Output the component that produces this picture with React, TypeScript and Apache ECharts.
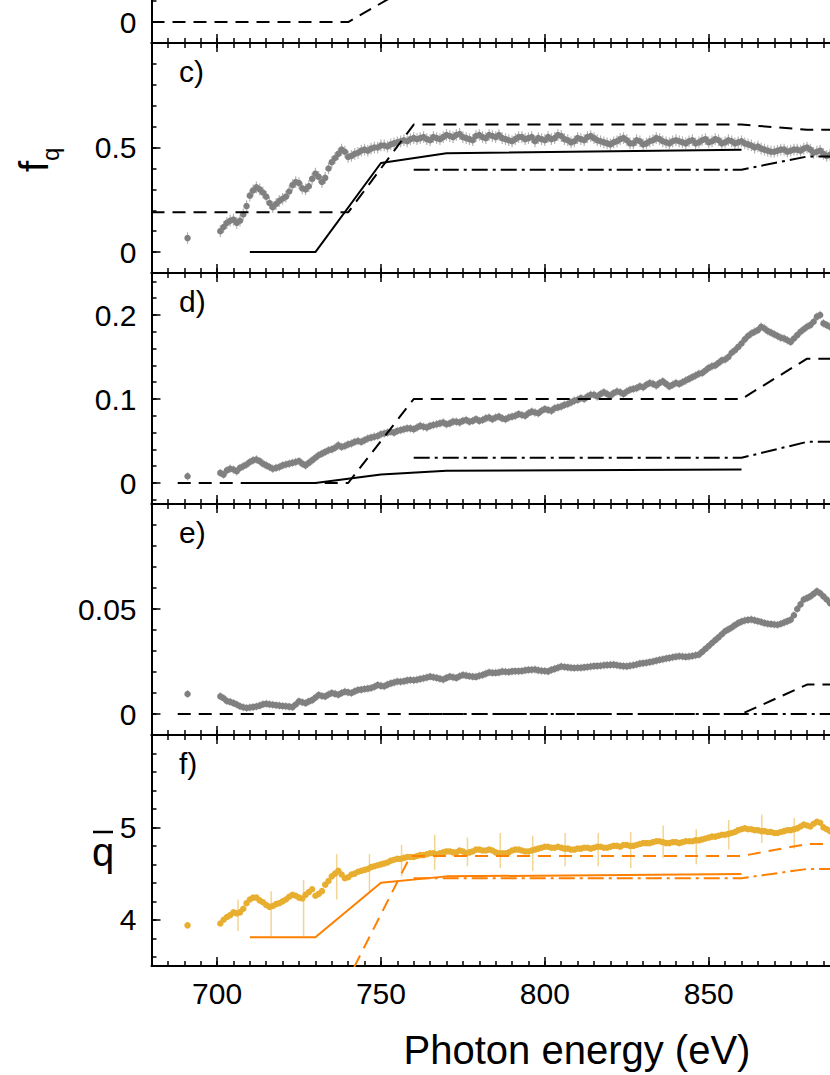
import React, { useEffect, useRef } from "react";
import * as echarts from "echarts";

// ---------- data ----------
const energy = [
  691,
  701, 703, 705, 707, 709, 711, 713, 715, 717, 719,
  721, 723, 725, 727, 729, 731, 733, 735, 737, 739,
  741, 743, 745, 747, 749, 751, 753, 755, 757, 759,
  761, 763, 765, 767, 769, 771, 773, 775, 777, 779,
  781, 783, 785, 787, 789, 791, 793, 795, 797, 799,
  801, 803, 805, 807, 809, 811, 813, 815, 817, 819,
  821, 823, 825, 827, 829, 831, 833, 835, 837, 839,
  841, 843, 845, 847, 849, 851, 853, 855, 857, 859,
  861, 863, 865, 867, 869, 871, 873, 875, 877, 879,
  881, 883, 885, 887,
];

const energyEven = [
  702, 704, 706, 708, 710, 712, 714, 716, 718, 720,
  722, 724, 726, 728, 730, 732, 734, 736, 738, 740,
  742, 744, 746, 748, 750, 752, 754, 756, 758, 760,
  762, 764, 766, 768, 770, 772, 774, 776, 778, 780,
  782, 784, 786, 788, 790, 792, 794, 796, 798, 800,
  802, 804, 806, 808, 810, 812, 814, 816, 818, 820,
  822, 824, 826, 828, 830, 832, 834, 836, 838, 840,
  842, 844, 846, 848, 850, 852, 854, 856, 858, 860,
  862, 864, 866, 868, 870, 872, 874, 876, 878, 880,
  882, 884, 886,
];

const fqValues = [
  0.067,
  0.10, 0.14, 0.155, 0.15, 0.22, 0.295, 0.30, 0.265, 0.215, 0.245,
  0.265, 0.32, 0.33, 0.30, 0.35, 0.36, 0.355, 0.43, 0.47, 0.48,
  0.46, 0.475, 0.49, 0.495, 0.50, 0.51, 0.515, 0.525, 0.535, 0.54,
  0.54, 0.55, 0.535, 0.545, 0.55, 0.555, 0.56, 0.55, 0.54, 0.555,
  0.55, 0.56, 0.55, 0.545, 0.535, 0.54, 0.55, 0.545, 0.53, 0.54,
  0.55, 0.545, 0.555, 0.535, 0.53, 0.54, 0.55, 0.545, 0.53, 0.52,
  0.525, 0.54, 0.535, 0.52, 0.53, 0.52, 0.535, 0.54, 0.525, 0.53,
  0.53, 0.52, 0.535, 0.525, 0.54, 0.53, 0.535, 0.525, 0.53, 0.525,
  0.52, 0.51, 0.505, 0.49, 0.48, 0.485, 0.49, 0.485, 0.49, 0.495,
  0.49, 0.48, 0.47, 0.465,
];
const fqValuesEven = [
  0.12, 0.15, 0.14, 0.18, 0.27, 0.31, 0.285, 0.235, 0.23, 0.255,
  0.29, 0.335, 0.305, 0.315, 0.375, 0.335, 0.40, 0.45, 0.49, 0.455,
  0.47, 0.485, 0.485, 0.50, 0.51, 0.505, 0.52, 0.53, 0.53, 0.545,
  0.545, 0.54, 0.55, 0.54, 0.56, 0.55, 0.565, 0.545, 0.535, 0.56,
  0.545, 0.555, 0.56, 0.54, 0.53, 0.55, 0.54, 0.55, 0.545, 0.535,
  0.54, 0.56, 0.54, 0.525, 0.545, 0.535, 0.555, 0.535, 0.525, 0.515,
  0.53, 0.545, 0.52, 0.535, 0.515, 0.53, 0.545, 0.53, 0.52, 0.535,
  0.525, 0.53, 0.52, 0.535, 0.525, 0.54, 0.52, 0.535, 0.52, 0.53,
  0.515, 0.50, 0.495, 0.485, 0.48, 0.49, 0.48, 0.49, 0.485, 0.50,
  0.475, 0.485, 0.46,
];

const dValues = [
  0.008,
  0.012, 0.015, 0.016, 0.018, 0.022, 0.027, 0.026, 0.021, 0.017, 0.019,
  0.022, 0.024, 0.026, 0.021, 0.027, 0.033, 0.037, 0.040, 0.045, 0.044,
  0.047, 0.050, 0.051, 0.054, 0.056, 0.059, 0.061, 0.062, 0.064, 0.065,
  0.066, 0.067, 0.068, 0.070, 0.072, 0.071, 0.073, 0.074, 0.073, 0.076,
  0.075, 0.078, 0.078, 0.077, 0.078, 0.080, 0.081, 0.083, 0.084, 0.086,
  0.087, 0.089, 0.091, 0.094, 0.098, 0.101, 0.103, 0.105, 0.106, 0.106,
  0.107, 0.108, 0.109, 0.112, 0.115, 0.117, 0.118, 0.119, 0.118, 0.117,
  0.118, 0.122, 0.126, 0.130, 0.134, 0.139, 0.143, 0.147, 0.155, 0.162,
  0.171, 0.178, 0.182, 0.184, 0.179, 0.175, 0.172, 0.168, 0.176, 0.183,
  0.188, 0.198, 0.19, 0.186,
];
const dValuesEven = [
  0.010, 0.017, 0.014, 0.020, 0.025, 0.028, 0.023, 0.019, 0.018, 0.021,
  0.023, 0.025, 0.023, 0.024, 0.030, 0.035, 0.039, 0.042, 0.043, 0.046,
  0.049, 0.049, 0.053, 0.055, 0.058, 0.060, 0.060, 0.063, 0.065, 0.064,
  0.068, 0.066, 0.069, 0.071, 0.070, 0.073, 0.072, 0.075, 0.074, 0.074,
  0.077, 0.076, 0.079, 0.076, 0.079, 0.082, 0.080, 0.085, 0.083, 0.088,
  0.086, 0.090, 0.093, 0.096, 0.099, 0.100, 0.105, 0.103, 0.108, 0.104,
  0.109, 0.106, 0.111, 0.113, 0.114, 0.119, 0.116, 0.121, 0.115, 0.119,
  0.120, 0.124, 0.128, 0.131, 0.137, 0.140, 0.146, 0.150, 0.158, 0.166,
  0.175, 0.180, 0.186, 0.181, 0.177, 0.173, 0.170, 0.172, 0.180, 0.186,
  0.192, 0.200, 0.188,
];

const eValues = [
  0.0095,
  0.0084, 0.0062, 0.0052, 0.0037, 0.0029, 0.0033, 0.0040, 0.0049, 0.0044, 0.0040,
  0.0037, 0.0033, 0.0060, 0.0052, 0.0066, 0.0090, 0.0084, 0.0100, 0.0092, 0.0106,
  0.0100, 0.0114, 0.0119, 0.0124, 0.0138, 0.0132, 0.0146, 0.0155, 0.0156, 0.0162,
  0.0163, 0.0170, 0.0178, 0.0172, 0.0164, 0.0178, 0.0172, 0.0186, 0.0180, 0.0177,
  0.0186, 0.0198, 0.0196, 0.0202, 0.0200, 0.0204, 0.0205, 0.0210, 0.0212, 0.0206,
  0.0203, 0.0215, 0.0226, 0.0222, 0.0219, 0.0220, 0.0224, 0.0228, 0.0230, 0.0233,
  0.0235, 0.0230, 0.0227, 0.0232, 0.0240, 0.0244, 0.0250, 0.0258, 0.0264, 0.0270,
  0.0275, 0.0272, 0.0276, 0.0283, 0.0310, 0.0338, 0.0365, 0.0394, 0.0412, 0.0433,
  0.0445, 0.0450, 0.0442, 0.0433, 0.0428, 0.0425, 0.0436, 0.0449, 0.0500, 0.0545,
  0.0560, 0.0584, 0.0560, 0.0528,
];
const eValuesEven = [
  0.0075, 0.0058, 0.0045, 0.0032, 0.0031, 0.0036, 0.0046, 0.0046, 0.0042, 0.0038,
  0.0035, 0.0045, 0.0056, 0.0060, 0.0078, 0.0086, 0.0093, 0.0096, 0.0100, 0.0103,
  0.0108, 0.0116, 0.0121, 0.0130, 0.0134, 0.0140, 0.0150, 0.0154, 0.0160, 0.0161,
  0.0167, 0.0174, 0.0175, 0.0168, 0.0172, 0.0175, 0.0180, 0.0183, 0.0178, 0.0182,
  0.0192, 0.0196, 0.0198, 0.0201, 0.0203, 0.0204, 0.0208, 0.0211, 0.0208, 0.0205,
  0.0210, 0.0220, 0.0224, 0.0220, 0.0220, 0.0222, 0.0226, 0.0229, 0.0232, 0.0234,
  0.0232, 0.0228, 0.0230, 0.0236, 0.0242, 0.0247, 0.0254, 0.0261, 0.0267, 0.0273,
  0.0274, 0.0274, 0.0280, 0.0296, 0.0324, 0.0352, 0.0380, 0.0403, 0.0423, 0.0440,
  0.0448, 0.0446, 0.0438, 0.0430, 0.0426, 0.0430, 0.0442, 0.0470, 0.0522, 0.0552,
  0.0572, 0.0575, 0.0545,
];

const qbarValues = [
  3.94,
  3.96, 4.03, 4.08, 4.08, 4.18, 4.24, 4.21, 4.16, 4.15, 4.18,
  4.22, 4.27, 4.24, 4.27, 4.33, 4.28, 4.38, 4.47, 4.53, 4.45,
  4.49, 4.52, 4.54, 4.57, 4.59, 4.61, 4.64, 4.66, 4.67, 4.68,
  4.69, 4.70, 4.72, 4.71, 4.73, 4.74, 4.73, 4.74, 4.73, 4.76,
  4.75, 4.76, 4.73, 4.72, 4.73, 4.76, 4.75, 4.74, 4.76, 4.78,
  4.79, 4.78, 4.78, 4.77, 4.76, 4.77, 4.78, 4.78, 4.79, 4.78,
  4.80, 4.79, 4.81, 4.80, 4.82, 4.83, 4.84, 4.85, 4.83, 4.84,
  4.83, 4.85, 4.85, 4.86, 4.88, 4.90, 4.91, 4.92, 4.94, 4.97,
  4.99, 4.98, 4.97, 4.96, 4.95, 4.94, 4.96, 4.97, 4.99, 5.03,
  5.01, 5.06, 5.00, 4.96,
];
const qbarValuesEven = [
  4.00, 4.05, 4.07, 4.12, 4.22, 4.24, 4.19, 4.14, 4.17, 4.20,
  4.25, 4.26, 4.23, 4.30, 4.26, 4.31, 4.42, 4.50, 4.49, 4.46,
  4.50, 4.53, 4.55, 4.58, 4.60, 4.62, 4.65, 4.66, 4.68, 4.68,
  4.70, 4.71, 4.72, 4.72, 4.74, 4.73, 4.75, 4.72, 4.74, 4.76,
  4.75, 4.75, 4.72, 4.72, 4.75, 4.76, 4.74, 4.75, 4.77, 4.79,
  4.78, 4.79, 4.77, 4.76, 4.77, 4.78, 4.77, 4.79, 4.78, 4.79,
  4.80, 4.81, 4.80, 4.81, 4.83, 4.83, 4.85, 4.84, 4.83, 4.84,
  4.84, 4.85, 4.86, 4.87, 4.89, 4.90, 4.92, 4.93, 4.95, 4.98,
  4.98, 4.97, 4.96, 4.95, 4.94, 4.95, 4.97, 4.98, 5.01, 5.02,
  5.04, 5.05, 4.98,
];

// error half-widths (grey panels)
const fqErr = 0.028;
const dErr = 0.005;
const eErr = 0.0019;

// sparse error bars of panel f
const qbarErrEnergy = [706.4, 716.5, 726.4, 736.5, 746.5, 756.3, 766.4, 776.4, 786.4, 796.3, 806.2, 816.3, 826.2, 836.1, 846.2, 856.1, 866.2, 876.1];
const qbarErrLow = [3.88, 3.82, 3.82, 4.22, 4.31, 4.47, 4.54, 4.58, 4.56, 4.53, 4.58, 4.58, 4.56, 4.67, 4.60, 4.76, 4.83, 4.77];
const qbarErrHigh = [4.22, 4.31, 4.43, 4.71, 4.71, 4.81, 4.92, 4.89, 4.94, 4.91, 4.94, 4.94, 4.95, 5.02, 4.98, 5.08, 5.14, 5.10];

// model curves
const bDashedX = [680, 740, 760];
const bDashedY = [0, 0, 0.18];

const cSolidX = [710, 730, 750, 770, 860];
const cSolidY = [0, 0, 0.426, 0.473, 0.489];
const cDashedX = [680, 740, 760, 860, 880, 890];
const cDashedY = [0.19, 0.19, 0.61, 0.61, 0.585, 0.585];
const cDashDotX = [760, 860, 880, 890];
const cDashDotY = [0.394, 0.394, 0.457, 0.457];

const dSolidX = [710, 730, 740, 750, 770, 860];
const dSolidY = [0, 0, 0.005, 0.01, 0.0147, 0.016];
const dDashedX = [688, 740, 760, 860, 880, 890];
const dDashedY = [0, 0, 0.1, 0.1, 0.148, 0.148];
const dDashDotX = [760, 860, 880, 890];
const dDashDotY = [0.03, 0.03, 0.049, 0.049];

const eDashedX = [688, 860, 880, 890];
const eDashedY = [0, 0, 0.014, 0.014];
const eDashDotX = [760, 860, 880, 890];
const eDashDotY = [0, 0, 0, 0];

const fSolidX = [710, 730, 750, 770, 860];
const fSolidY = [3.81, 3.81, 4.40, 4.47, 4.495];
const fDashedX = [680, 740, 759, 860, 880, 890];
const fDashedY = [3.36, 3.36, 4.69, 4.69, 4.82, 4.82];
const fDashDotX = [760, 860, 880, 890];
const fDashDotY = [4.45, 4.45, 4.55, 4.55];

// tick values
const xMajorTicks = [700, 750, 800, 850];
const xMin = 680;
const xMax = 887;

// ---------- helpers ----------
const FONT = '"Liberation Sans", Arial, sans-serif';
const steps = (a: number, b: number, s: number) => {
  const out: number[] = [];
  const n = Math.round((b - a) / s);
  for (let i = 0; i <= n; i++) out.push(Math.round((a + i * s) * 10000) / 10000);
  return out;
};
const xMinorTicks = steps(680, 885, 5);
const pairs = (xs: number[], ys: number[]) => xs.map((x, i) => [x, ys[i]]);
const fmt = (v: number) => String(Math.round(v * 1000) / 1000);

type Panel = {
  top: number;
  height: number;
  min: number;
  max: number;
  major: number[];
  minor: number[];
  topAxis: boolean;
  labelsX: boolean;
};

const panels: Panel[] = [
  { top: 0, height: 43, min: -0.1, max: 0.1057, major: [0], minor: [0.1], topAxis: false, labelsX: false },
  { top: 43, height: 230, min: -0.1, max: 1.0, major: [0, 0.5], minor: steps(-0.1, 1.0, 0.1), topAxis: true, labelsX: false },
  { top: 273, height: 231, min: -0.025, max: 0.25, major: [0, 0.1, 0.2], minor: steps(-0.02, 0.24, 0.02), topAxis: true, labelsX: false },
  { top: 504, height: 231, min: -0.01, max: 0.1, major: [0, 0.05], minor: steps(-0.01, 0.1, 0.01), topAxis: true, labelsX: false },
  { top: 735, height: 231, min: 3.5, max: 6.0, major: [4, 5], minor: steps(3.6, 5.8, 0.2), topAxis: true, labelsX: true },
];

const BLACK = "#000";
const GREY = "#808080";
const GREY_ERR = "#b4b4b4";
const GOLD = "#e8ae30";
const GOLD_ERR = "#f2d592";
const ORANGE = "#ff7f00";
const DASH = [13, 8];
const DASHDOT = [16, 5, 3, 5];

function buildOption() {
  const grid: any[] = [];
  const xAxis: any[] = [];
  const yAxis: any[] = [];
  const series: any[] = [];
  const mainX: number[] = [];
  const mainY: number[] = [];

  panels.forEach((p, gi) => {
    grid.push({ left: 151.5, right: 0, top: p.top, height: p.height, containLabel: false, outerBoundsMode: "none" });
    const base = {
      gridIndex: gi,
      type: "value",
      min: xMin,
      max: xMax,
      splitLine: { show: false },
    };
    const positions = p.topAxis ? ["bottom", "top"] : ["bottom"];
    positions.forEach((pos) => {
      xAxis.push({
        ...base,
        position: pos,
        axisLine: { show: true, onZero: false, lineStyle: { color: BLACK, width: 2 } },
        axisTick: { show: true, inside: true, length: 5, customValues: xMinorTicks, lineStyle: { color: BLACK, width: 1.5 } },
        axisLabel: { show: false },
      });
      if (pos === "bottom") mainX[gi] = xAxis.length;
      xAxis.push({
        ...base,
        position: pos,
        axisLine: { show: false, onZero: false },
        axisTick: { show: true, inside: true, length: 9, customValues: xMajorTicks, lineStyle: { color: BLACK, width: 1.5 } },
        axisLabel:
          p.labelsX && pos === "bottom"
            ? { show: true, customValues: xMajorTicks, fontSize: 30, fontFamily: FONT, color: BLACK, margin: 12, formatter: fmt }
            : { show: false },
      });
    });

    const yBase = { gridIndex: gi, type: "value", min: p.min, max: p.max, position: "left", splitLine: { show: false } };
    yAxis.push({
      ...yBase,
      axisLine: { show: true, onZero: false, lineStyle: { color: BLACK, width: 2 } },
      axisTick: { show: true, inside: true, length: 5, customValues: p.minor, lineStyle: { color: BLACK, width: 1.5 } },
      axisLabel: { show: false },
    });
    mainY[gi] = yAxis.length;
    yAxis.push({
      ...yBase,
      axisLine: { show: false, onZero: false },
      axisTick: { show: true, inside: true, length: 9, customValues: p.major, lineStyle: { color: BLACK, width: 1.5 } },
      axisLabel: { show: true, customValues: p.major, fontSize: 30, fontFamily: FONT, color: BLACK, margin: 15, formatter: fmt },
    });
  });

  const ax = (gi: number) => ({ xAxisIndex: mainX[gi], yAxisIndex: mainY[gi] });

  const lineSeries = (gi: number, xs: number[], ys: number[], type: any, color: string) => ({
    type: "line",
    ...ax(gi),
    data: pairs(xs, ys),
    symbol: "none",
    showSymbol: false,
    clip: true,
    silent: true,
    z: 5,
    lineStyle: { color, width: 2, type },
  });

  const errorSeries = (gi: number, xs: number[], lo: number[], hi: number[], color: string, width: number) => ({
    type: "custom",
    ...ax(gi),
    data: xs.map((x, i) => [x, lo[i], hi[i]]),
    encode: { x: 0, y: [1, 2] },
    silent: true,
    clip: true,
    z: 2,
    renderItem: (_params: any, api: any) => {
      const p1 = api.coord([api.value(0), api.value(1)]);
      const p2 = api.coord([api.value(0), api.value(2)]);
      return {
        type: "line",
        shape: { x1: p1[0], y1: p1[1], x2: p2[0], y2: p2[1] },
        style: { stroke: color, lineWidth: width },
      };
    },
  });

  const scatterSeries = (gi: number, xs: number[], vals: number[], color: string) => ({
    type: "scatter",
    ...ax(gi),
    data: pairs(xs, vals),
    symbol: "circle",
    symbolSize: 6.5,
    silent: true,
    clip: true,
    z: 3,
    itemStyle: { color, opacity: 1 },
  });

  const greyPanel = (gi: number, odd: number[], even: number[], err: number) => {
    series.push(errorSeries(gi, energy, odd.map((v) => v - err), odd.map((v) => v + err), GREY_ERR, 1.2));
    series.push(errorSeries(gi, energyEven, even.map((v) => v - err), even.map((v) => v + err), GREY_ERR, 1.2));
    series.push(scatterSeries(gi, energy, odd, GREY));
    series.push(scatterSeries(gi, energyEven, even, GREY));
  };

  // panel b
  series.push(lineSeries(0, bDashedX, bDashedY, DASH, BLACK));

  // panel c
  greyPanel(1, fqValues, fqValuesEven, fqErr);
  series.push(lineSeries(1, cSolidX, cSolidY, "solid", BLACK));
  series.push(lineSeries(1, cDashedX, cDashedY, DASH, BLACK));
  series.push(lineSeries(1, cDashDotX, cDashDotY, DASHDOT, BLACK));

  // panel d
  greyPanel(2, dValues, dValuesEven, dErr);
  series.push(lineSeries(2, dSolidX, dSolidY, "solid", BLACK));
  series.push(lineSeries(2, dDashedX, dDashedY, DASH, BLACK));
  series.push(lineSeries(2, dDashDotX, dDashDotY, DASHDOT, BLACK));

  // panel e
  greyPanel(3, eValues, eValuesEven, eErr);
  series.push(lineSeries(3, eDashedX, eDashedY, DASH, BLACK));
  series.push(lineSeries(3, eDashDotX, eDashDotY, DASHDOT, BLACK));

  // panel f
  series.push(errorSeries(4, qbarErrEnergy, qbarErrLow, qbarErrHigh, GOLD_ERR, 1.5));
  series.push(scatterSeries(4, energy, qbarValues, GOLD));
  series.push(scatterSeries(4, energyEven, qbarValuesEven, GOLD));
  series.push(lineSeries(4, fSolidX, fSolidY, "solid", ORANGE));
  series.push(lineSeries(4, fDashedX, fDashedY, DASH, ORANGE));
  series.push(lineSeries(4, fDashDotX, fDashDotY, DASHDOT, ORANGE));

  const txt = (text: string, x: number, y: number, size: number, extra: any = {}, align = "left") => ({
    type: "text",
    x,
    y,
    silent: true,
    z: 10,
    ...extra,
    style: {
      text,
      x: 0,
      y: 0,
      font: `${size}px ${FONT}`,
      fill: BLACK,
      textAlign: align,
      textVerticalAlign: "middle",
      align,
      verticalAlign: "middle",
    },
  });

  const graphic: any[] = [
    txt("c)", 179, 43 + 28, 30),
    txt("d)", 179, 273 + 28, 30),
    txt("e)", 179, 504 + 28, 30),
    txt("f)", 179, 735 + 28, 30),
    txt("f", 34, 172, 40, { rotation: Math.PI / 2 }),
    txt("q", 50, 161, 24, { rotation: Math.PI / 2 }),
    txt("Photon energy (eV)", 577, 1050, 40, {}, "center"),
    txt("q", 103, 852, 40, {}, "center"),
    {
      type: "line",
      silent: true,
      z: 10,
      shape: { x1: 93, y1: 832, x2: 113, y2: 832 },
      style: { stroke: BLACK, lineWidth: 2.5 },
    },
  ];

  return {
    animation: false,
    backgroundColor: "#fff",
    textStyle: { fontFamily: FONT },
    grid,
    xAxis,
    yAxis,
    series,
    graphic,
  };
}

export default function App() {
  const ref = useRef<HTMLDivElement>(null);
  useEffect(() => {
    if (!ref.current) return;
    const chart = echarts.init(ref.current, undefined, { renderer: "svg" });
    chart.setOption(buildOption() as any);
    return () => chart.dispose();
  }, []);
  return (
    <div
      ref={ref}
      style={{ position: "fixed", left: 0, top: 0, width: 830, height: 1075, background: "#fff" }}
    />
  );
}
